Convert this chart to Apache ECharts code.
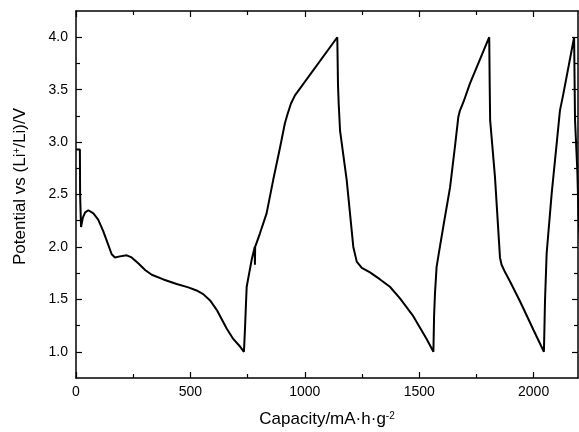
<!DOCTYPE html>
<html>
<head>
<meta charset="utf-8">
<script src="https://cdn.jsdelivr.net/npm/echarts@6/dist/echarts.min.js"></script>
<style>
html,body{margin:0;padding:0;background:#fff;}
#chart{width:579px;height:432px;}
</style>
</head>
<body>
<div id="chart"></div>
<script>
// Capacity (mA·h·g-2) and potential (V)
var capacity = [0, 17, 18, 22, 30, 40, 54, 76, 97, 119, 141, 156, 170, 192, 222, 243, 272, 302, 331, 382, 440, 491, 527, 556, 586, 615, 637, 659, 688, 717, 734,
  739, 743, 746, 757, 768, 778, 781, 782, 783, 804, 833, 862, 892, 913, 925, 940, 957, 1142,
  1145, 1148, 1154, 1183, 1212, 1227, 1249, 1285, 1329, 1372, 1416, 1474, 1533, 1562,
  1565, 1569, 1576, 1588, 1605, 1635, 1658, 1671, 1678, 1693, 1722, 1806,
  1808, 1810, 1831, 1853, 1860, 1875, 1897, 1941, 1999, 2045,
  2048, 2050, 2057, 2079, 2101, 2115, 2130, 2177,
  2179, 2181, 2191, 2197, 2205];
var potential = [2.93, 2.93, 2.50, 2.19, 2.28, 2.33, 2.35, 2.32, 2.26, 2.15, 2.02, 1.93, 1.90, 1.91, 1.92, 1.90, 1.845, 1.78, 1.735, 1.69, 1.646, 1.614, 1.585, 1.55, 1.49, 1.40, 1.31, 1.22, 1.12, 1.05, 1.0,
  1.24, 1.465, 1.62, 1.75, 1.88, 1.97, 2.00, 1.83, 2.00, 2.13, 2.32, 2.64, 2.95, 3.18, 3.27, 3.37, 3.445, 4.0,
  3.55, 3.37, 3.11, 2.64, 2.00, 1.86, 1.80, 1.757, 1.69, 1.62, 1.51, 1.34, 1.12, 1.0,
  1.34, 1.56, 1.81, 1.97, 2.19, 2.57, 2.99, 3.24, 3.30, 3.38, 3.56, 4.0,
  3.56, 3.21, 2.67, 1.90, 1.83, 1.76, 1.67, 1.48, 1.21, 1.0,
  1.30, 1.50, 1.94, 2.51, 2.99, 3.30, 3.46, 4.0,
  3.60, 3.21, 2.73, 2.26, 1.95];
var xMajorTicks = [0, 500, 1000, 1500, 2000];
var xMinorTicks = [250, 750, 1250, 1750];
var yMajorTicks = [1.0, 1.5, 2.0, 2.5, 3.0, 3.5, 4.0];
var yMinorTicks = [1.25, 1.75, 2.25, 2.75, 3.25, 3.75];

var X_MIN = 0, X_MAX = 2194, Y_MIN = 0.75, Y_MAX = 4.25;

var data = capacity.map(function (c, i) { return [c, potential[i]]; });

var chart = echarts.init(document.getElementById('chart'), null, {renderer: 'canvas'});
var lineCol = '#000';
var labelFont = {color: '#000', fontSize: 14, fontFamily: 'Liberation Sans, Arial, sans-serif'};

function xAxisDef(pos, ticks, len, showLine, labels, extra) {
  var a = {
    type: 'value', gridIndex: 0, position: pos, offset: 0, min: X_MIN, max: X_MAX,
    axisLine: {show: showLine, onZero: false, lineStyle: {color: lineCol, width: 1.5}},
    axisTick: {show: true, inside: true, length: len, customValues: ticks, lineStyle: {color: lineCol, width: 1.2}},
    axisLabel: labels ? Object.assign({show: true, customValues: ticks, margin: 7,
      formatter: function (v) { return String(v); }}, labelFont) : {show: false},
    splitLine: {show: false}
  };
  return Object.assign(a, extra || {});
}
function yAxisDef(pos, ticks, len, showLine, labels, extra) {
  var a = {
    type: 'value', gridIndex: 0, position: pos, offset: 0, min: Y_MIN, max: Y_MAX,
    axisLine: {show: showLine, onZero: false, lineStyle: {color: lineCol, width: 1.5}},
    axisTick: {show: true, inside: true, length: len, customValues: ticks, lineStyle: {color: lineCol, width: 1.2}},
    axisLabel: labels ? Object.assign({show: true, customValues: ticks, margin: 8,
      formatter: function (v) { return v.toFixed(1); }}, labelFont) : {show: false},
    splitLine: {show: false}
  };
  return Object.assign(a, extra || {});
}

var nameRich = {
  n: {fontSize: 17, fontFamily: 'Liberation Sans, Arial, sans-serif', color: '#000'},
  s: {fontSize: 10, fontFamily: 'Liberation Sans, Arial, sans-serif', color: '#000', verticalAlign: 'top'}
};

var option = {
  backgroundColor: '#fff',
  animation: false,
  grid: {left: 76, right: 1, top: 11, bottom: 54, containLabel: false, outerBoundsMode: 'none'},
  xAxis: [
    xAxisDef('bottom', xMajorTicks, 6, true, true, {
      name: '{n|Capacity/mA·h·g}{s|-2}', nameLocation: 'middle', nameGap: 33,
      nameTextStyle: {rich: nameRich}
    }),
    xAxisDef('bottom', xMinorTicks, 4, false, false),
    xAxisDef('top', xMajorTicks, 6, true, false),
    xAxisDef('top', xMinorTicks, 4, false, false)
  ],
  yAxis: [
    yAxisDef('left', yMajorTicks, 6, true, true, {
      name: '{n|Potential vs (Li}{s|+}{n|/Li)/V}', nameLocation: 'middle', nameGap: 47,
      nameTextStyle: {rich: nameRich, padding: [0, 0, 0, 16]}
    }),
    yAxisDef('left', yMinorTicks, 4, false, false),
    yAxisDef('right', yMajorTicks, 6, true, false),
    yAxisDef('right', yMinorTicks, 4, false, false)
  ],
  series: [{
    type: 'line',
    xAxisIndex: 0,
    yAxisIndex: 0,
    data: data,
    showSymbol: false,
    symbol: 'none',
    clip: true,
    smooth: false,
    lineStyle: {color: '#000', width: 2},
    z: 3
  }]
};
chart.setOption(option);
</script>
</body>
</html>
